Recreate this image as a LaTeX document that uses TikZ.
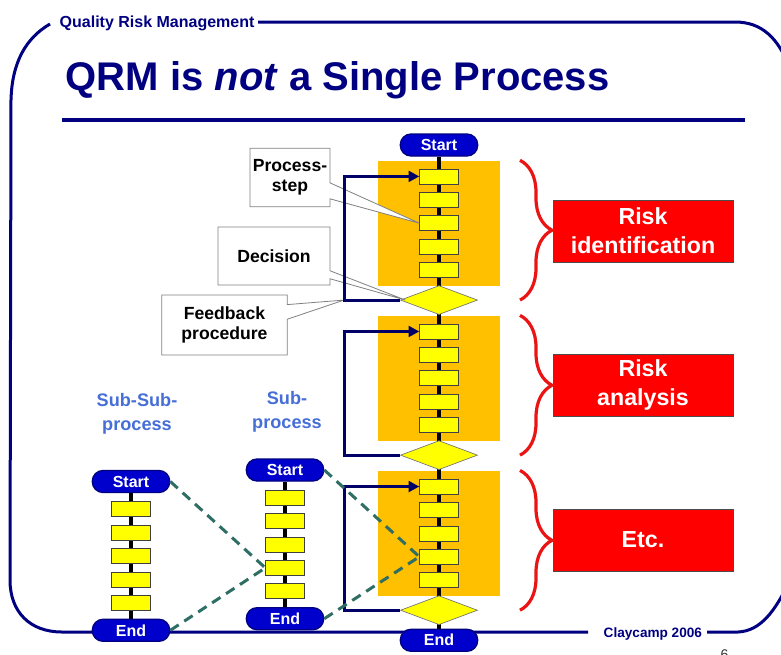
\documentclass[tikz,border=0pt]{standalone}
\usepackage{fontspec}
\setmainfont{Liberation Sans}
\usetikzlibrary{arrows.meta,shapes.geometric,shapes.callouts,fit,backgrounds,decorations.pathreplacing}

\definecolor{qrmnavy}{RGB}{0,0,128}
\definecolor{pillblue}{RGB}{0,0,204}
\definecolor{panelgold}{RGB}{255,192,0}
\definecolor{stepyellow}{RGB}{255,255,0}
\definecolor{loopnavy}{RGB}{0,0,102}
\definecolor{dashteal}{RGB}{47,110,100}
\definecolor{subblue}{RGB}{70,110,215}
\definecolor{riskred}{RGB}{255,0,0}
\definecolor{bracered}{RGB}{235,20,20}

\begin{document}
\begin{tikzpicture}[x=0.75pt, y=-0.75pt, node distance=17.55pt]

% definitions
\tikzstyle{startend} = [rectangle, rounded corners=8pt, minimum width=58pt, minimum height=16.5pt, inner sep=0pt, draw=qrmnavy, line width=1pt, fill=pillblue, text=white, font=\fontsize{12}{12}\selectfont\bfseries]

\tikzstyle{stepbox} = [rectangle, minimum width=29pt, minimum height=11.25pt, inner sep=0pt, draw=black!75, line width=0.5pt, fill=stepyellow]

\tikzstyle{decision} = [diamond, minimum width=57.75pt, minimum height=21.75pt, inner sep=0pt, draw=black!55, line width=0.5pt, fill=stepyellow]

\tikzstyle{panel} = [rectangle, fill=panelgold, inner xsep=31.25pt, inner ysep=6pt]

\tikzstyle{riskbox} = [rectangle, minimum width=135pt, minimum height=46.5pt, draw=black!70, line width=0.6pt, fill=riskred, text=white, align=center, font=\fontsize{17.4}{22}\selectfont\bfseries]

\tikzstyle{note} = [rectangle callout, inner sep=0pt, draw=black!50, line width=0.6pt, fill=white, align=center, font=\fontsize{13.2}{15}\selectfont\bfseries]

\tikzstyle{sublabel} = [align=center, text=subblue, font=\fontsize{13.6}{18}\selectfont\bfseries]

\tikzstyle{spine} = [draw=black, line width=3pt]
\tikzstyle{arrow} = [->, >={Triangle[length=8pt, width=8pt]}, draw=loopnavy, line width=2.25pt]
\tikzstyle{dashline} = [draw=dashteal, line width=2.25pt, dash pattern=on 7.5pt off 5pt]
\tikzstyle{bracket} = [decorate, decoration={brace, amplitude=24pt}, draw=bracered, line width=2.4pt]
\tikzstyle{frame} = [draw=qrmnavy, line width=2.25pt]

\useasboundingbox (0,0) rectangle (781,654);

% header and footer
\node (qrm) [anchor=base west, text=qrmnavy, font=\fontsize{12}{12}\selectfont\bfseries] at (55,27) {Quality Risk Management};
\node (title) [anchor=base west, text=qrmnavy, font=\fontsize{30}{30}\selectfont\bfseries] at (61,90) {QRM is \textit{not} a Single Process};
\node (credit) [anchor=base west, text=qrmnavy, font=\fontsize{10.2}{10.2}\selectfont\bfseries] at (599,637) {Claycamp 2006};
\node (pageno) [anchor=base west, text=black!80, font=\fontsize{10.5}{10.5}\selectfont] at (716,659) {6};

% main process
\node (start) [startend] at (439,145) {Start};
\node (p1) [stepbox, below of=start, yshift=-6pt] {};
\node (p2) [stepbox, below of=p1] {};
\node (p3) [stepbox, below of=p2] {};
\node (p4) [stepbox, below of=p3] {};
\node (p5) [stepbox, below of=p4] {};
\node (d1) [decision, below of=p5, yshift=-5pt] {};
\node (p6) [stepbox, below of=d1, yshift=-6pt] {};
\node (p7) [stepbox, below of=p6] {};
\node (p8) [stepbox, below of=p7] {};
\node (p9) [stepbox, below of=p8] {};
\node (p10) [stepbox, below of=p9] {};
\node (d2) [decision, below of=p10, yshift=-5pt] {};
\node (p11) [stepbox, below of=d2, yshift=-6pt] {};
\node (p12) [stepbox, below of=p11] {};
\node (p13) [stepbox, below of=p12] {};
\node (p14) [stepbox, below of=p13] {};
\node (p15) [stepbox, below of=p14] {};
\node (d3) [decision, below of=p15, yshift=-5pt] {};
\node (end) [startend, below of=d3, yshift=-5pt] {End};

% sub-process
\node (lsub) [sublabel] at (287,412) {Sub-\\process};
\node (sstart) [startend] at (285,470) {Start};
\node (s1) [stepbox, below of=sstart, yshift=-3.2pt] {};
\node (s2) [stepbox, below of=s1] {};
\node (s3) [stepbox, below of=s2] {};
\node (s4) [stepbox, below of=s3] {};
\node (s5) [stepbox, below of=s4] {};
\node (send) [startend, below of=s5, yshift=-3pt] {End};

% sub-sub-process
\node (lsubsub) [sublabel] at (137,414) {Sub-Sub-\\process};
\node (ssstart) [startend] at (131,481.5) {Start};
\node (ss1) [stepbox, below of=ssstart, yshift=-3.3pt] {};
\node (ss2) [stepbox, below of=ss1] {};
\node (ss3) [stepbox, below of=ss2] {};
\node (ss4) [stepbox, below of=ss3] {};
\node (ss5) [stepbox, below of=ss4] {};
\node (ssend) [startend, below of=ss5, yshift=-3pt] {End};

% feedback corners
\coordinate (lx) at (344,0);
\coordinate (k1) at (d1.west -| lx);
\coordinate (k2) at (d2.west -| lx);
\coordinate (k3) at (d3.west -| lx);

% callouts
\node (c1) [note, minimum width=60pt, minimum height=44pt, callout absolute pointer={(p3.west)}, callout pointer width=12pt] at (290,177.5) {Process-\\step};
\node (c2) [note, minimum width=84pt, minimum height=43.5pt, callout absolute pointer={([xshift=4pt]d1.west)}, callout pointer width=6pt] at (274,256) {Decision};
\node (c3) [note, minimum width=94pt, minimum height=45pt, callout absolute pointer={(k1)}, callout pointer width=11pt] at (224.5,325) {Feedback\\procedure};

% results
\node (r1) [riskbox] at (643,231) {Risk\\identification};
\node (r2) [riskbox] at (643,385) {Risk\\analysis};
\node (r3) [riskbox] at (643,540) {Etc.};

\begin{pgfonlayer}{background}
\node (g1) [panel, fit=(p1)(p5)] {};
\node (g2) [panel, fit=(p6)(p10)] {};
\node (g3) [panel, fit=(p11)(p15)] {};
\draw [spine] (start) -- (end);
\draw [spine] (sstart) -- (send);
\draw [spine] (ssstart) -- (ssend);
\draw [frame] (258,22) -- (735,22) .. controls (762,22) and (778,38) .. (790,68);
\draw [frame] (50,24) .. controls (26,38) and (12,62) .. (11,100) -- (10,580) .. controls (10,612) and (30,632) .. (62,632) -- (588,632);
\draw [frame] (707,632) -- (738,632) .. controls (760,631) and (775,612) .. (790,580);
\draw [frame, line width=3pt] (62,120) -- (745,120);
\end{pgfonlayer}

\draw [arrow] (d1.west) -- (k1) |- (p1.west);
\draw [arrow] (d2.west) -- (k2) |- (p6.west);
\draw [arrow] (d3.west) -- (k3) |- (p11.west);

\draw [dashline] (ssstart.east) -- (s4.west);
\draw [dashline] (ssend.east) -- (s4.west);
\draw [dashline] (sstart.east) -- (p14.west);
\draw [dashline] (send.east) -- (p14.west);

\coordinate (bx) at (520,0);
\draw [bracket] (g1.north -| bx) -- (d1 -| bx);
\draw [bracket] (g2.north -| bx) -- (d2 -| bx);
\draw [bracket] (g3.north -| bx) -- (d3 -| bx);

\end{tikzpicture}
\end{document}
